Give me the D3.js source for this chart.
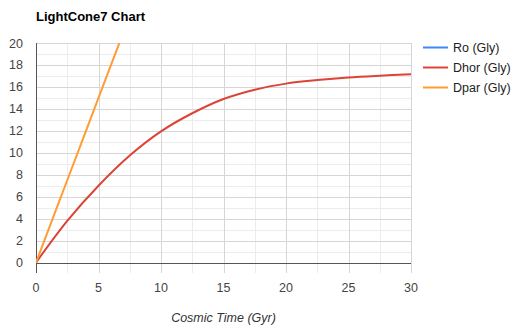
<!DOCTYPE html>
<html>
<head>
<meta charset="utf-8">
<script src="https://cdn.jsdelivr.net/npm/d3@7"></script>
<style>
  body { margin: 0; background: #fff; }
  text { font-family: "Liberation Sans", Arial, sans-serif; }
</style>
</head>
<body>
<svg id="chart"></svg>
<script>
// data
var seriesNames = ["Ro (Gly)", "Dhor (Gly)", "Dpar (Gly)"];
var seriesColors = ["#4285f4", "#db4437", "#ff9c33"];

var roT = [];
var roV = [];

var dhorT = [0, 2.5, 5, 7.5, 10, 12.5, 15, 17.5, 20, 22.5, 25, 27.5, 30];
var dhorV = [0, 3.8, 7.0, 9.75, 11.95, 13.6, 14.9, 15.75, 16.3, 16.62, 16.86, 17.02, 17.15];

var dparT = [0, 1, 2, 3, 4, 5, 6, 7];
var dparV = [0, 3.0, 6.0, 9.0, 12.0, 15.0, 18.0, 21.0];

var xTicks = [0, 5, 10, 15, 20, 25, 30];
var yTicks = [0, 2, 4, 6, 8, 10, 12, 14, 16, 18, 20];

// set the dimensions and margins of the graph
var W = 516, H = 332;
var margin = { top: 43, right: 105, bottom: 59, left: 36 },
  width = W - margin.left - margin.right,
  height = H - margin.top - margin.bottom;

var svg = d3.select("#chart")
  .attr("width", W)
  .attr("height", H);

var g = svg.append("g")
  .attr("transform", "translate(" + margin.left + "," + margin.top + ")");

var x = d3.scaleLinear().domain([0, 30]).range([0, width]);
var y = d3.scaleLinear().domain([-0.95, 20]).range([height, 0]);

// minor grid
var xMinor = d3.range(0, 30.01, 2.5).filter(function (d) { return d % 5 != 0; });
var yMinor = d3.range(-1, 20.01, 1).filter(function (d) { return d % 2 != 0 && y(d) <= height + 0.5; });

g.selectAll(".xminor").data(xMinor).enter().append("line")
  .attr("x1", function (d) { return Math.round(x(d)) + 0.5; })
  .attr("x2", function (d) { return Math.round(x(d)) + 0.5; })
  .attr("y1", 0).attr("y2", height)
  .attr("stroke", "#ececec");

g.selectAll(".yminor").data(yMinor).enter().append("line")
  .attr("x1", 0).attr("x2", width)
  .attr("y1", function (d) { return Math.round(y(d)) + 0.5; })
  .attr("y2", function (d) { return Math.round(y(d)) + 0.5; })
  .attr("stroke", "#ececec");

// major grid
g.selectAll(".xmajor").data(xTicks).enter().append("line")
  .attr("x1", function (d) { return Math.round(x(d)) + 0.5; })
  .attr("x2", function (d) { return Math.round(x(d)) + 0.5; })
  .attr("y1", 0).attr("y2", height)
  .attr("stroke", "#d6d6d6");

g.selectAll(".ymajor").data(yTicks).enter().append("line")
  .attr("x1", 0).attr("x2", width)
  .attr("y1", function (d) { return Math.round(y(d)) + 0.5; })
  .attr("y2", function (d) { return Math.round(y(d)) + 0.5; })
  .attr("stroke", "#d6d6d6");

// baselines
g.append("line")
  .attr("x1", 0).attr("x2", width)
  .attr("y1", Math.round(y(0)) + 0.5).attr("y2", Math.round(y(0)) + 0.5)
  .attr("stroke", "#555");
g.append("line")
  .attr("x1", 0.5).attr("x2", 0.5)
  .attr("y1", 0).attr("y2", height)
  .attr("stroke", "#555");

// tick labels
g.selectAll(".ylab").data(yTicks).enter().append("text")
  .attr("x", -13)
  .attr("y", function (d) { return y(d) + 4.5; })
  .attr("text-anchor", "end")
  .attr("font-size", 12.5)
  .attr("fill", "#444")
  .text(function (d) { return d; });

g.selectAll(".xlab").data(xTicks).enter().append("text")
  .attr("x", function (d) { return x(d); })
  .attr("y", 292 - margin.top)
  .attr("text-anchor", "middle")
  .attr("font-size", 12.5)
  .attr("fill", "#444")
  .text(function (d) { return d; });

// axis title
g.append("text")
  .attr("x", width / 2)
  .attr("y", 322 - margin.top)
  .attr("text-anchor", "middle")
  .attr("font-size", 12.5)
  .attr("font-style", "italic")
  .attr("fill", "#333")
  .text("Cosmic Time (Gyr)");

// chart title
svg.append("text")
  .attr("x", 36)
  .attr("y", 21)
  .attr("font-size", 13)
  .attr("font-weight", "bold")
  .attr("fill", "#000")
  .text("LightCone7 Chart");

// lines
svg.append("defs").append("clipPath").attr("id", "clip")
  .append("rect").attr("x", 0).attr("y", 0).attr("width", width).attr("height", height);

var line = d3.line()
  .x(function (d) { return x(d[0]); })
  .y(function (d) { return y(d[1]); })
  .curve(d3.curveCatmullRom);

var series = [
  d3.zip(roT, roV),
  d3.zip(dhorT, dhorV),
  d3.zip(dparT, dparV)
];

g.append("g").attr("clip-path", "url(#clip)")
  .selectAll("path").data(series).enter().append("path")
  .attr("d", function (d) { return d.length ? line(d) : null; })
  .attr("fill", "none")
  .attr("stroke", function (d, i) { return seriesColors[i]; })
  .attr("stroke-width", 2);

// legend
var leg = svg.selectAll(".leg").data(seriesNames).enter().append("g")
  .attr("transform", function (d, i) { return "translate(423," + (47.5 + i * 20) + ")"; });
leg.append("line")
  .attr("x1", 0).attr("x2", 25)
  .attr("y1", 0).attr("y2", 0)
  .attr("stroke", function (d, i) { return seriesColors[i]; })
  .attr("stroke-width", 2);
leg.append("text")
  .attr("x", 30)
  .attr("y", 4.5)
  .attr("font-size", 12.5)
  .attr("fill", "#222")
  .text(function (d) { return d; });
</script>
</body>
</html>
